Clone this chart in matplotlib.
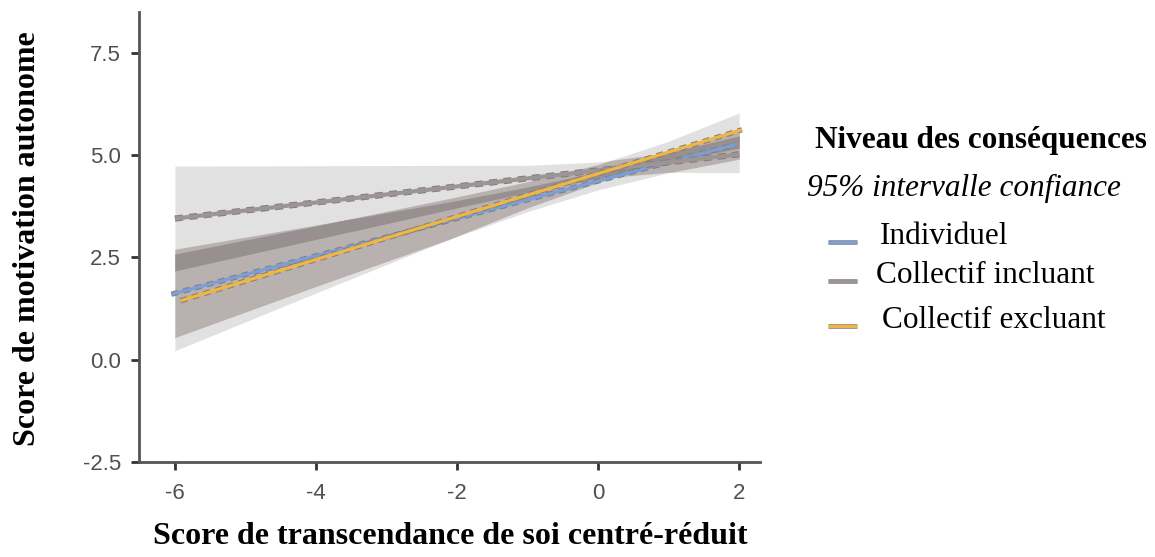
import numpy as np
import matplotlib
matplotlib.use("Agg")
import matplotlib.pyplot as plt
from matplotlib.lines import Line2D

# --- data ------------------------------------------------------------------
groups = ["Individuel", "Collectif incluant", "Collectif excluant"]
colours = ["#7a9fd8", "#9b9595", "#f0b642"]

# fitted lines (end points)
line_x = [[-6.05, 1.95], [-6.0, 2.0], [-5.92, 2.04]]
line_y = [[1.60, 5.26], [3.45, 5.02], [1.44, 5.62]]

# 95% confidence bands
ci_x = [-6, -4, -2, -1, 0, 1, 2]
ci_low = [
    [0.54, 1.79, 3.01, 3.62, 4.15, 4.57, 4.90],
    [2.17, 2.94, 3.71, 4.09, 4.43, 4.58, 4.57],
    [0.22, 1.63, 3.02, 3.71, 4.33, 4.82, 5.17],
]
ci_high = [
    [2.70, 3.29, 3.89, 4.22, 4.59, 5.07, 5.66],
    [4.73, 4.74, 4.75, 4.75, 4.83, 5.06, 5.47],
    [2.58, 3.27, 3.98, 4.35, 4.77, 5.34, 6.03],
]

x_ticks = [-6, -4, -2, 0, 2]
y_ticks = [-2.5, 0.0, 2.5, 5.0, 7.5]

# shades for 1, 2 and 3 overlapping bands
band_shades = ["#e1e1e1", "#b8b1af", "#989090"]

plt.rcParams["font.family"] = ["Liberation Sans", "DejaVu Sans"]

fig = plt.figure(figsize=(11.55, 5.57), dpi=100)
ax = fig.add_axes([0.1203, 0.1706, 0.538, 0.808])

# bands: draw union, then pair overlaps, then triple overlap
xs = np.linspace(ci_x[0], ci_x[-1], 600)
lo = [np.interp(xs, ci_x, l) for l in ci_low]
hi = [np.interp(xs, ci_x, h) for h in ci_high]
for l, h in zip(lo, hi):
    ax.fill_between(xs, l, h, color=band_shades[0], lw=0, zorder=1)
for i in range(3):
    for j in range(i + 1, 3):
        l = np.maximum(lo[i], lo[j])
        h = np.minimum(hi[i], hi[j])
        ax.fill_between(xs, l, h, where=h > l, color=band_shades[1], lw=0, zorder=2)
l3 = np.maximum.reduce(lo)
h3 = np.minimum.reduce(hi)
ax.fill_between(xs, l3, h3, where=h3 > l3, color=band_shades[2], lw=0, zorder=3)

# lines: dotted grey outline under a coloured core
widths = [2.3, 3.0, 2.3]
for k in range(3):
    ax.plot(line_x[k], line_y[k], color="#857e7e", lw=widths[k] + 1.5,
            linestyle=(0, (1.3, 1.0)), solid_capstyle="butt", zorder=4 + k)
    ax.plot(line_x[k], line_y[k], color=colours[k], lw=widths[k],
            solid_capstyle="butt", zorder=4 + k)

ax.set_xlim(-6.51, 2.3)
ax.set_ylim(-2.5, 8.5)
ax.set_xticks(x_ticks)
ax.set_xticklabels([str(v) for v in x_ticks])
ax.set_yticks(y_ticks)
ax.set_yticklabels([f"{v:.1f}" for v in y_ticks])
ax.tick_params(direction="out", length=6, width=2, color="#333333",
               labelsize=16, labelcolor="#505050")
ax.tick_params(axis="x", pad=9)
ax.tick_params(axis="y", pad=7)
for side in ("top", "right"):
    ax.spines[side].set_visible(False)
for side in ("left", "bottom"):
    ax.spines[side].set_color("#555555")
    ax.spines[side].set_linewidth(2)

serif = "Liberation Serif"
fig.text(0.390, 0.036, "Score de transcendance de soi centré-réduit",
         ha="center", va="center", family=serif, weight="bold", fontsize=23)
fig.text(0.0234, 0.572, "Score de motivation autonome", rotation=90,
         ha="center", va="center", family=serif, weight="bold", fontsize=23)

# legend, laid out by hand
fig.text(0.7056, 0.748, "Niveau des conséquences", ha="left", va="center",
         family=serif, weight="bold", fontsize=22.5)
fig.text(0.699, 0.662, "95% intervalle confiance", ha="left", va="center",
         family=serif, style="italic", fontsize=22.5)
leg_y = [0.576, 0.505, 0.424]
leg_x = [0.7619, 0.7584, 0.7636]
for k in range(3):
    fig.add_artist(Line2D([0.717, 0.742], [leg_y[k] - 0.010] * 2,
                          transform=fig.transFigure, color="#a09a9a",
                          lw=3.6, solid_capstyle="butt"))
    fig.add_artist(Line2D([0.717, 0.742], [leg_y[k] - 0.010] * 2,
                          transform=fig.transFigure, color=colours[k],
                          lw=2.2, solid_capstyle="butt"))
    fig.text(leg_x[k], leg_y[k], groups[k], ha="left", va="center",
             family=serif, fontsize=22.5)

fig.savefig("out.png", dpi=100)
